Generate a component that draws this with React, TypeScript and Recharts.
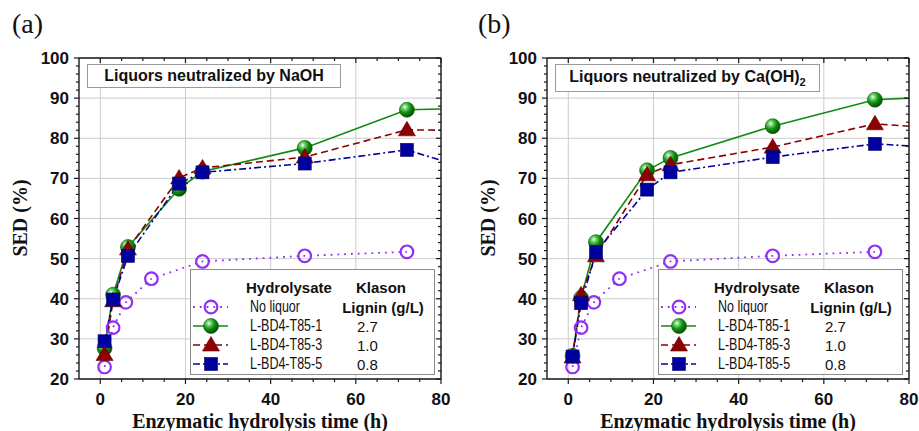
import React from 'react';
import { LineChart, Line, XAxis, YAxis, CartesianGrid } from 'recharts';

// hydrolysis times (h)
const noLiquorTimes = [1, 3, 6, 12, 24, 48, 72];
const liquorTimes = [1, 3, 6.5, 18.5, 24, 48, 72, 96];

// SED (%)
const noLiquorSed = [23.0, 32.8, 39.1, 45.0, 49.3, 50.7, 51.7];
const naohT851 = [27.7, 41.0, 52.9, 67.4, 71.7, 77.6, 87.1, 87.7];
const naohT853 = [26.1, 39.5, 52.4, 70.1, 72.6, 75.3, 82.1, 81.8];
const naohT855 = [29.4, 39.8, 50.7, 68.7, 71.5, 73.7, 77.1, 69.3];
const caT851 = [25.8, 40.2, 54.1, 72.0, 75.1, 83.0, 89.6, 90.8];
const caT853 = [25.5, 41.0, 50.7, 70.9, 73.4, 77.8, 83.6, 81.8];
const caT855 = [25.6, 38.9, 51.6, 67.2, 71.5, 75.3, 78.6, 77.1];

const seriesNames = ['No liquor', 'L-BD4-T85-1', 'L-BD4-T85-3', 'L-BD4-T85-5'];
const ligninValues = ['', '2.7', '1.0', '0.8'];

const xMajorTicks = [0, 20, 40, 60, 80];
const xMinorTicks = [0, 5, 10, 15, 20, 25, 30, 35, 40, 45, 50, 55, 60, 65, 70, 75, 80];
const yMajorTicks = [20, 30, 40, 50, 60, 70, 80, 90, 100];
const yMinorTicks = [
  20, 22, 24, 26, 28, 30, 32, 34, 36, 38, 40, 42, 44, 46, 48, 50, 52, 54, 56, 58, 60,
  62, 64, 66, 68, 70, 72, 74, 76, 78, 80, 82, 84, 86, 88, 90, 92, 94, 96, 98, 100,
];

const PURPLE = '#9130f5';
const GREEN = '#118a11';
const RED = '#8b0000';
const BLUE = '#00009e';
const AXIS = '#1a1a1a';

const sans = '"Liberation Sans", Arial, sans-serif';
const serif = '"Liberation Serif", "Times New Roman", serif';

const toPoints = (ts: number[], vs: number[]) => ts.map((t, i) => ({ t, v: vs[i] }));

const tickText = { fontFamily: sans, fontWeight: 700, fontSize: 17, fill: '#111' };

function BottomTick({ x, y, payload }: any) {
  const major = xMajorTicks.includes(payload.value);
  return (
    <g>
      <line x1={x} y1={y} x2={x} y2={y + (major ? 5 : 3)} stroke={AXIS} strokeWidth={1.2} />
      {major && (
        <text x={x} y={y + 26} textAnchor="middle" {...tickText}>
          {payload.value}
        </text>
      )}
    </g>
  );
}

function TopTick({ x, y, payload }: any) {
  const major = xMajorTicks.includes(payload.value);
  return <line x1={x} y1={y} x2={x} y2={y + (major ? 5 : 3)} stroke={AXIS} strokeWidth={1.2} />;
}

function LeftTick({ x, y, payload }: any) {
  const major = yMajorTicks.includes(payload.value);
  return (
    <g>
      <line x1={x} y1={y} x2={x - (major ? 5 : 3)} y2={y} stroke={AXIS} strokeWidth={1.2} />
      {major && (
        <text x={x - 10} y={y + 6} textAnchor="end" {...tickText}>
          {payload.value}
        </text>
      )}
    </g>
  );
}

function RightTick({ x, y, payload }: any) {
  const major = yMajorTicks.includes(payload.value);
  return <line x1={x} y1={y} x2={x - (major ? 5 : 3)} y2={y} stroke={AXIS} strokeWidth={1.2} />;
}

function Marker({ kind, cx, cy, gid }: { kind: string; cx: number; cy: number; gid: string }) {
  if (cx == null || cy == null) return null;
  if (kind === 'circle') {
    return <circle cx={cx} cy={cy} r={6.3} fill="none" stroke={PURPLE} strokeWidth={2.2} />;
  }
  if (kind === 'ball') {
    return <circle cx={cx} cy={cy} r={7.5} fill={`url(#${gid})`} stroke="#0a5a0a" strokeWidth={0.6} />;
  }
  if (kind === 'triangle') {
    return (
      <polygon
        points={`${cx},${cy - 8.5} ${cx - 8.5},${cy + 6} ${cx + 8.5},${cy + 6}`}
        fill={RED}
        stroke="#6a0000"
        strokeWidth={0.6}
      />
    );
  }
  return <rect x={cx - 6.5} y={cy - 6.5} width={13} height={13} fill={BLUE} stroke="#000070" strokeWidth={0.6} />;
}

const seriesStyle = [
  { kind: 'circle', color: PURPLE, dash: '1.8 5', width: 1.8 },
  { kind: 'ball', color: GREEN, dash: undefined, width: 1.6 },
  { kind: 'triangle', color: RED, dash: '7 4', width: 1.6 },
  { kind: 'square', color: BLUE, dash: '7 3 2 3', width: 1.6 },
];

function LegendBox({ gid }: { gid: string }) {
  const bold = { position: 'absolute' as const, fontFamily: sans, fontWeight: 700, fontSize: 15, lineHeight: 1, whiteSpace: 'nowrap' as const, color: '#111' };
  const plain = { position: 'absolute' as const, fontFamily: sans, fontSize: 15, lineHeight: 1, whiteSpace: 'nowrap' as const, color: '#111' };
  const rowY = [36.5, 55.5, 74.5, 93.5];
  return (
    <div
      style={{
        position: 'absolute',
        left: 190,
        top: 269,
        width: 245,
        height: 106,
        border: '1.5px solid #8c8c8c',
        background: '#fff',
        boxSizing: 'border-box',
      }}
    >
      <span style={{ ...bold, left: 55, top: 17, transform: 'translateY(-50%)' }}>Hydrolysate</span>
      <span style={{ ...bold, left: 190, top: 17, transform: 'translate(-50%, -50%)' }}>Klason</span>
      <span style={{ ...bold, left: 192, top: 36.5, transform: 'translate(-50%, -50%)' }}>Lignin (g/L)</span>
      {seriesNames.map((name, i) => {
        const s = seriesStyle[i];
        return (
          <React.Fragment key={name}>
            <svg width={40} height={18} style={{ position: 'absolute', left: 0, top: rowY[i] - 9, overflow: 'visible' }}>
              <line x1={2} y1={9} x2={37} y2={9} stroke={s.color} strokeWidth={s.width} strokeDasharray={s.dash} />
              <Marker kind={s.kind} cx={20} cy={9} gid={gid} />
            </svg>
            {/* names in the figure are set in a condensed face */}
            <span
              style={{
                ...plain,
                fontSize: 16,
                left: 59,
                top: rowY[i],
                transform: 'translateY(-50%) scaleX(0.78)',
                transformOrigin: 'left center',
              }}
            >
              {name}
            </span>
            {ligninValues[i] && (
              <span style={{ ...plain, left: 166, top: rowY[i], transform: 'translateY(-50%)' }}>{ligninValues[i]}</span>
            )}
          </React.Fragment>
        );
      })}
    </div>
  );
}

interface PanelProps {
  left: number;
  letter: string;
  letterX: number;
  title: React.ReactNode;
  titleWidth: number;
  titleHeight: number;
  t1: number[];
  t3: number[];
  t5: number[];
  gid: string;
}

function Panel({ left, letter, letterX, title, titleWidth, titleHeight, t1, t3, t5, gid }: PanelProps) {
  const lines = [
    toPoints(noLiquorTimes, noLiquorSed),
    toPoints(liquorTimes, t1),
    toPoints(liquorTimes, t3),
    toPoints(liquorTimes, t5),
  ];

  // axes get 1px of room each; the plot box ends up at x 79..441, y 58..379
  return (
    <div style={{ position: 'absolute', left, top: 0, width: 451, height: 431 }}>
      <LineChart width={451} height={431} margin={{ top: 57, right: 9, bottom: 51, left: 78 }}>
        <defs>
          <radialGradient id={gid} cx="36%" cy="32%" r="70%">
            <stop offset="0%" stopColor="#ffffff" />
            <stop offset="20%" stopColor="#7ad87a" />
            <stop offset="55%" stopColor="#109010" />
            <stop offset="100%" stopColor="#044c04" />
          </radialGradient>
        </defs>
        <CartesianGrid
          xAxisId="b"
          yAxisId="l"
          verticalValues={xMajorTicks}
          horizontalValues={yMajorTicks}
          stroke="#cdcdcd"
          strokeWidth={1}
        />
        <XAxis
          xAxisId="b"
          type="number"
          dataKey="t"
          domain={[-5, 80]}
          allowDataOverflow
          ticks={xMinorTicks}
          interval={0}
          height={1}
          tickSize={0}
          tickMargin={0}
          tickLine={false}
          axisLine={{ stroke: AXIS, strokeWidth: 1.4 }}
          tick={BottomTick}
        />
        <XAxis
          xAxisId="t"
          orientation="top"
          type="number"
          dataKey="t"
          domain={[-5, 80]}
          allowDataOverflow
          ticks={xMinorTicks}
          interval={0}
          height={1}
          tickSize={0}
          tickMargin={0}
          tickLine={false}
          axisLine={{ stroke: AXIS, strokeWidth: 1.4 }}
          tick={TopTick}
        />
        <YAxis
          yAxisId="l"
          type="number"
          dataKey="v"
          domain={[20, 100]}
          allowDataOverflow
          ticks={yMinorTicks}
          interval={0}
          width={1}
          tickSize={0}
          tickMargin={0}
          tickLine={false}
          axisLine={{ stroke: AXIS, strokeWidth: 1.4 }}
          tick={LeftTick}
        />
        <YAxis
          yAxisId="r"
          orientation="right"
          type="number"
          dataKey="v"
          domain={[20, 100]}
          allowDataOverflow
          ticks={yMinorTicks}
          interval={0}
          width={1}
          tickSize={0}
          tickMargin={0}
          tickLine={false}
          axisLine={{ stroke: AXIS, strokeWidth: 1.4 }}
          tick={RightTick}
        />
        {lines.map((pts, i) => {
          const s = seriesStyle[i];
          return (
            <Line
              key={seriesNames[i]}
              xAxisId="b"
              yAxisId="l"
              data={pts}
              dataKey="v"
              type="linear"
              stroke={s.color}
              strokeWidth={s.width}
              strokeDasharray={s.dash}
              dot={(p: any) => <Marker key={`${i}-${p.index}`} kind={s.kind} cx={p.cx} cy={p.cy} gid={gid} />}
              activeDot={false}
              isAnimationActive={false}
            />
          );
        })}
      </LineChart>

      <div style={{ position: 'absolute', left: letterX, top: 10, fontFamily: serif, fontSize: 28, lineHeight: 1, color: '#111' }}>
        {letter}
      </div>

      <div
        style={{
          position: 'absolute',
          left: 20,
          top: 218,
          transform: 'translate(-50%, -50%) rotate(-90deg)',
          fontFamily: serif,
          fontWeight: 700,
          fontSize: 20,
          whiteSpace: 'nowrap',
          lineHeight: 1,
          color: '#111',
        }}
      >
        SED (%)
      </div>

      <div
        style={{
          position: 'absolute',
          left: 260,
          top: 421,
          transform: 'translate(-50%, -50%)',
          fontFamily: serif,
          fontWeight: 700,
          fontSize: 20,
          whiteSpace: 'nowrap',
          lineHeight: 1,
          color: '#111',
        }}
      >
        Enzymatic hydrolysis time (h)
      </div>

      <div
        style={{
          position: 'absolute',
          left: 87,
          top: 64,
          width: titleWidth,
          height: titleHeight,
          border: '1.5px solid #9a9a9a',
          background: '#fff',
          boxSizing: 'border-box',
          display: 'flex',
          alignItems: 'center',
          justifyContent: 'center',
          fontFamily: sans,
          fontWeight: 700,
          fontSize: 16,
          whiteSpace: 'nowrap',
          color: '#111',
        }}
      >
        {title}
      </div>

      <LegendBox gid={gid} />
    </div>
  );
}

export default function App() {
  return (
    <div style={{ position: 'absolute', left: 0, top: 0, width: 919, height: 431, background: '#fff', overflow: 'hidden' }}>
      <Panel
        left={0}
        letter="(a)"
        letterX={12}
        title="Liquors neutralized by NaOH"
        titleWidth={254}
        titleHeight={24}
        t1={naohT851}
        t3={naohT853}
        t5={naohT855}
        gid="ballNaoh"
      />
      <Panel
        left={468}
        letter="(b)"
        letterX={10}
        title={
          <span>
            Liquors neutralized by Ca(OH)
            <sub style={{ fontSize: 11, verticalAlign: '-4px' }}>2</sub>
          </span>
        }
        titleWidth={265}
        titleHeight={28}
        t1={caT851}
        t3={caT853}
        t5={caT855}
        gid="ballCa"
      />
    </div>
  );
}
